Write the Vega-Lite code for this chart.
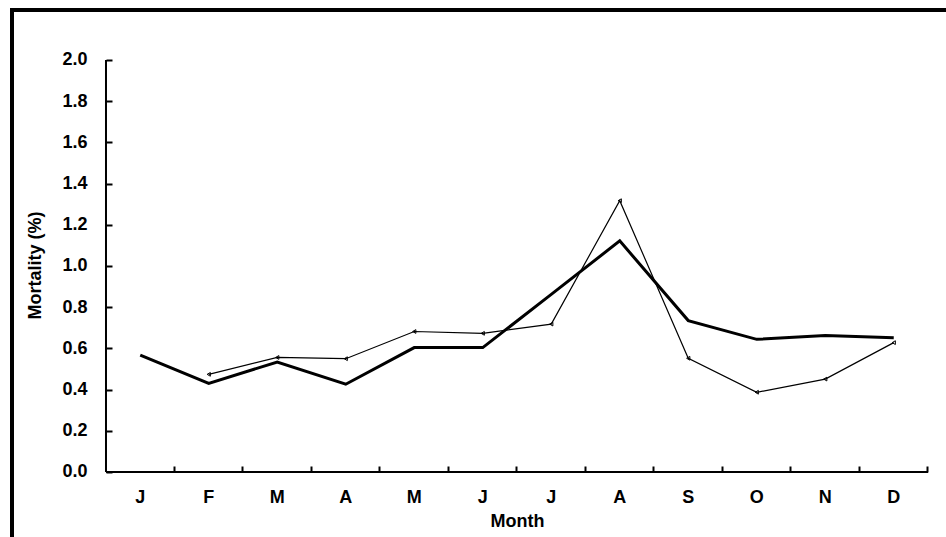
{
  "$schema": "https://vega.github.io/schema/vega-lite/v6.json",
  "autosize": "none",
  "padding": {"left": 12, "top": 10, "right": 0, "bottom": 0},
  "width": 938,
  "height": 530,
  "background": "white",
  "config": {
    "font": "Liberation Sans",
    "view": {"stroke": "#000", "strokeWidth": 4},
    "axis": {
      "labelFont": "Liberation Sans",
      "titleFont": "Liberation Sans",
      "labelFontSize": 18,
      "titleFontSize": 18,
      "labelFontWeight": "bold",
      "titleFontWeight": "bold",
      "labelColor": "#000",
      "titleColor": "#000",
      "tickColor": "#000",
      "tickWidth": 2,
      "grid": false,
      "domain": false
    }
  },
  "data": {
    "values": [
      {"month": "Jan", "series": "avg", "value": 0.567},
      {"month": "Feb", "series": "avg", "value": 0.43},
      {"month": "Mar", "series": "avg", "value": 0.534},
      {"month": "Apr", "series": "avg", "value": 0.426},
      {"month": "May", "series": "avg", "value": 0.604},
      {"month": "Jun", "series": "avg", "value": 0.604},
      {"month": "Jul", "series": "avg", "value": 0.862},
      {"month": "Aug", "series": "avg", "value": 1.122},
      {"month": "Sep", "series": "avg", "value": 0.735},
      {"month": "Oct", "series": "avg", "value": 0.644},
      {"month": "Nov", "series": "avg", "value": 0.663},
      {"month": "Dec", "series": "avg", "value": 0.652},
      {"month": "Feb", "series": "2015", "value": 0.474},
      {"month": "Mar", "series": "2015", "value": 0.556},
      {"month": "Apr", "series": "2015", "value": 0.55},
      {"month": "May", "series": "2015", "value": 0.682},
      {"month": "Jun", "series": "2015", "value": 0.673},
      {"month": "Jul", "series": "2015", "value": 0.718},
      {"month": "Aug", "series": "2015", "value": 1.317},
      {"month": "Sep", "series": "2015", "value": 0.552},
      {"month": "Oct", "series": "2015", "value": 0.387},
      {"month": "Nov", "series": "2015", "value": 0.451},
      {"month": "Dec", "series": "2015", "value": 0.628}
    ]
  },
  "encoding": {
    "x": {
      "field": "month",
      "type": "ordinal",
      "bandPosition": 0.5,
      "sort": ["Jan", "Feb", "Mar", "Apr", "May", "Jun", "Jul", "Aug", "Sep", "Oct", "Nov", "Dec"],
      "scale": {"type": "band", "paddingInner": 0, "paddingOuter": 0.8467, "align": 0.8103},
      "axis": {
        "title": "Month",
        "labelAngle": 0,
        "labelExpr": "substring(datum.label, 0, 1)",
        "bandPosition": 1,
        "tickSize": -6,
        "offset": -68,
        "labelPadding": 22,
        "titlePadding": 6,
        "titleX": 505
      }
    },
    "y": {
      "field": "value",
      "type": "quantitative",
      "scale": {"domain": [-0.3301, 2.2427], "nice": false, "zero": false},
      "axis": {
        "title": "Mortality (%)",
        "values": [0, 0.2, 0.4, 0.6, 0.8, 1.0, 1.2, 1.4, 1.6, 1.8, 2.0],
        "format": ".1f",
        "tickSize": -6,
        "offset": -94,
        "labelPadding": 25,
        "titlePadding": 17,
        "titleY": 255
      }
    }
  },
  "layer": [
    {
      "data": {"values": [{"month": "Jan", "tick": 0}, {"month": "Dec", "tick": 0}]},
      "mark": {"type": "line", "color": "#000", "strokeWidth": 2},
      "encoding": {
        "x": {"field": "month", "type": "ordinal", "bandPosition": 0},
        "y": {"field": "tick", "type": "quantitative"}
      }
    },
    {
      "data": {"values": [{"month": "Jan", "tick": 0}, {"month": "Dec", "tick": 0}]},
      "mark": {"type": "line", "color": "#000", "strokeWidth": 2},
      "encoding": {
        "x": {"field": "month", "type": "ordinal", "bandPosition": 1},
        "y": {"field": "tick", "type": "quantitative"}
      }
    },
    {
      "data": {"values": [{"tick": 0}, {"tick": 2}]},
      "mark": {"type": "line", "color": "#000", "strokeWidth": 2},
      "encoding": {
        "x": {"datum": "Jan", "type": "ordinal", "bandPosition": 0},
        "y": {"field": "tick", "type": "quantitative"}
      }
    },
    {
      "transform": [{"filter": "datum.series === 'avg'"}],
      "mark": {"type": "line", "color": "#000", "strokeWidth": 3}
    },
    {
      "transform": [{"filter": "datum.series === '2015'"}],
      "mark": {"type": "line", "color": "#000", "strokeWidth": 1.2}
    },
    {
      "transform": [{"filter": "datum.series === '2015'"}],
      "mark": {"type": "point", "shape": "triangle-left", "size": 14, "filled": false, "color": "#000", "strokeWidth": 1, "opacity": 1}
    },
    {
      "data": {"values": [{"label": "2015"}]},
      "mark": {"type": "text", "fontSize": 18, "fontWeight": "bold", "color": "#000", "align": "center", "baseline": "alphabetic"},
      "encoding": {
        "x": {"datum": "Apr", "type": "ordinal", "bandPosition": 0.07},
        "y": {"datum": 1.67, "type": "quantitative"},
        "text": {"field": "label"}
      }
    },
    {
      "data": {"values": [{"label": "5 Yr Average Total Mortality (2011 - 2015)"}]},
      "mark": {"type": "text", "fontSize": 18, "fontWeight": "bold", "color": "#000", "align": "center", "baseline": "alphabetic"},
      "encoding": {
        "x": {"datum": "Sep", "type": "ordinal", "bandPosition": 0.7},
        "y": {"datum": 1.67, "type": "quantitative"},
        "text": {"field": "label"}
      }
    }
  ]
}
